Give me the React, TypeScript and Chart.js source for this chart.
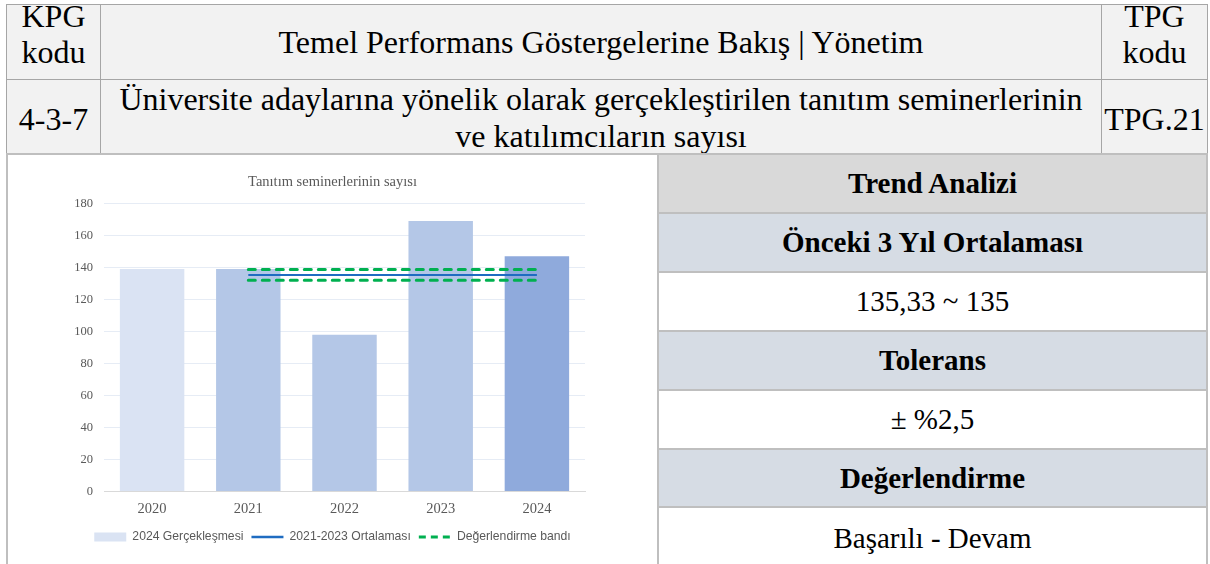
import React, { useEffect, useRef } from "react";
import { Chart, registerables } from "chart.js";

Chart.register(...registerables);

// ---- data ----
const years: string[] = ["2020", "2021", "2022", "2023", "2024"];
const seminarCounts: number[] = [139, 139, 98, 169, 147];
const barColors: string[] = ["#dae3f3", "#b4c7e7", "#b4c7e7", "#b4c7e7", "#8faadc"];
const averageLine: (number | null)[] = [null, 135.33, 135.33, 135.33, 135.33];
const bandUpper: (number | null)[] = [null, 138.71, 138.71, 138.71, 138.71];
const bandLower: (number | null)[] = [null, 131.95, 131.95, 131.95, 131.95];
const legendLabels: string[] = ["2024 Gerçekleşmesi", "2021-2023 Ortalaması", "Değerlendirme bandı"];
const chartTitle = "Tanıtım seminerlerinin sayısı";
const yMin = 0;
const yMax = 180;
const yStep = 20;

const panelRows: { text: string; bold: boolean; bg: string }[] = [
  { text: "Trend Analizi", bold: true, bg: "#d9d9d9" },
  { text: "Önceki 3 Yıl Ortalaması", bold: true, bg: "#d6dce4" },
  { text: "135,33 ~ 135", bold: false, bg: "#ffffff" },
  { text: "Tolerans", bold: true, bg: "#d6dce4" },
  { text: "± %2,5", bold: false, bg: "#ffffff" },
  { text: "Değerlendirme", bold: true, bg: "#d6dce4" },
  { text: "Başarılı - Devam", bold: false, bg: "#ffffff" },
];
const panelRowTops = [155, 214, 273, 332, 391, 450, 508];
const panelRowHeights = [57, 57, 57, 57, 57, 56, 60];

const BLUE = "#1f6cc1";
const GREEN = "#00b050";
const SERIF = '"Liberation Serif", "Times New Roman", serif';
const SANS = '"Liberation Sans", Arial, sans-serif';

function ChartPanel() {
  const ref = useRef<HTMLCanvasElement | null>(null);
  useEffect(() => {
    if (!ref.current) return;
    const chart = new Chart(ref.current, {
      type: "bar",
      data: {
        labels: years,
        datasets: [
          {
            type: "line",
            label: legendLabels[1],
            data: averageLine,
            borderColor: BLUE,
            backgroundColor: BLUE,
            borderWidth: 2,
            pointRadius: 0,
            order: 1,
          } as any,
          {
            type: "line",
            label: legendLabels[2],
            data: bandUpper,
            borderColor: GREEN,
            backgroundColor: GREEN,
            borderWidth: 3,
            borderDash: [7, 7],
            borderCapStyle: "round",
            pointRadius: 0,
            order: 1,
          } as any,
          {
            type: "line",
            label: legendLabels[2],
            data: bandLower,
            borderColor: GREEN,
            backgroundColor: GREEN,
            borderWidth: 3,
            borderDash: [7, 7],
            borderCapStyle: "round",
            pointRadius: 0,
            order: 1,
          } as any,
          {
            type: "bar",
            label: legendLabels[0],
            data: seminarCounts,
            backgroundColor: barColors,
            borderWidth: 0,
            barPercentage: 0.67,
            categoryPercentage: 1,
            order: 2,
          } as any,
        ],
      },
      options: {
        animation: false,
        responsive: false,
        layout: { padding: { left: 0, right: 0, top: 0, bottom: 11 } },
        plugins: {
          tooltip: { enabled: false },
          title: {
            display: true,
            text: chartTitle,
            color: "#595959",
            font: { family: SERIF, size: 14.5, weight: "normal" },
            padding: { top: 18, bottom: 13 },
          },
          legend: {
            display: true,
            position: "bottom",
            labels: {
              usePointStyle: true,
              pointStyleWidth: 32,
              boxHeight: 9,
              padding: 8,
              color: "#595959",
              font: { family: SANS, size: 12.2 },
              generateLabels: () => [
                {
                  text: legendLabels[0],
                  fillStyle: barColors[0],
                  strokeStyle: barColors[0],
                  lineWidth: 0,
                  pointStyle: "rect",
                  hidden: false,
                  datasetIndex: 3,
                  fontColor: "#595959",
                },
                {
                  text: legendLabels[1],
                  fillStyle: BLUE,
                  strokeStyle: BLUE,
                  lineWidth: 2.5,
                  pointStyle: "line",
                  hidden: false,
                  datasetIndex: 0,
                  fontColor: "#595959",
                },
                {
                  text: legendLabels[2],
                  fillStyle: GREEN,
                  strokeStyle: GREEN,
                  lineWidth: 3,
                  lineDash: [7, 5],
                  lineCap: "butt",
                  pointStyle: "line",
                  hidden: false,
                  datasetIndex: 1,
                  fontColor: "#595959",
                },
              ],
            },
          },
        },
        scales: {
          x: {
            grid: { display: false, drawTicks: false },
            border: { display: true, color: "#d9d9d9", width: 1 },
            ticks: {
              color: "#595959",
              font: { family: SERIF, size: 14.5 },
              padding: 9,
            },
            afterFit: (s: any) => {
              s.height = 31.25;
            },
          },
          y: {
            min: yMin,
            max: yMax,
            grid: { color: "#e6ecf5", drawTicks: false, lineWidth: 1 },
            border: { display: false },
            ticks: {
              stepSize: yStep,
              color: "#595959",
              font: { family: SERIF, size: 12.5 },
              padding: 11,
            },
            afterFit: (s: any) => {
              s.width = 96;
            },
          },
          yRightSpace: {
            type: "linear",
            position: "right",
            display: true,
            grid: { display: false, drawTicks: false },
            border: { display: false },
            ticks: { display: false },
            afterFit: (s: any) => {
              s.width = 72;
            },
          },
        },
      } as any,
    });
    return () => chart.destroy();
  }, []);
  return (
    <canvas
      ref={ref}
      width={649}
      height={409}
      style={{ position: "absolute", left: 8, top: 155, width: 649, height: 409 }}
    />
  );
}

const cellBase: React.CSSProperties = {
  position: "absolute",
  boxSizing: "border-box",
  display: "flex",
  alignItems: "center",
  justifyContent: "center",
  textAlign: "center",
  fontFamily: SERIF,
  color: "#000",
  overflow: "visible",
  whiteSpace: "nowrap",
};

function HeaderCell(props: {
  x: number;
  y: number;
  w: number;
  h: number;
  children: React.ReactNode;
  shift?: number;
  lh?: number;
}) {
  return (
    <div
      style={{
        ...cellBase,
        left: props.x,
        top: props.y,
        width: props.w,
        height: props.h,
        background: "#f2f2f2",
        border: "1px solid #a6a6a6",
        fontSize: 32,
        lineHeight: (props.lh ?? 37) + "px",
      }}
    >
      <div style={{ position: "relative", top: props.shift ?? 0 }}>{props.children}</div>
    </div>
  );
}

export default function App() {
  return (
    <div style={{ position: "absolute", left: 0, top: 0, width: 1210, height: 564, overflow: "hidden", background: "#fff" }}>
      {/* header table */}
      <HeaderCell x={6} y={4} w={95} h={76} shift={-8} lh={36}>
        KPG
        <br />
        kodu
      </HeaderCell>
      <HeaderCell x={100} y={4} w={1002} h={76}>
        Temel Performans Göstergelerine Bakış | Yönetim
      </HeaderCell>
      <HeaderCell x={1101} y={4} w={107} h={76} shift={-8} lh={36}>
        TPG
        <br />
        kodu
      </HeaderCell>
      <HeaderCell x={6} y={79} w={95} h={75} shift={3}>
        4-3-7
      </HeaderCell>
      <HeaderCell x={100} y={79} w={1002} h={75} shift={1}>
        Üniversite adaylarına yönelik olarak gerçekleştirilen tanıtım seminerlerinin
        <br />
        ve katılımcıların sayısı
      </HeaderCell>
      <HeaderCell x={1101} y={79} w={107} h={75} shift={3}>
        TPG.21
      </HeaderCell>

      {/* lower section borders */}
      <div style={{ position: "absolute", left: 6, top: 153, width: 1202, height: 2, background: "#bfbfbf" }} />
      <div style={{ position: "absolute", left: 6, top: 153, width: 2, height: 420, background: "#bfbfbf" }} />

      {/* chart */}
      <ChartPanel />

      {/* right panel */}
      <div style={{ position: "absolute", left: 657, top: 153, width: 551, height: 420, background: "#bfbfbf" }} />
      {panelRows.map((r, i) => (
        <div
          key={i}
          style={{
            ...cellBase,
            left: 659,
            top: panelRowTops[i],
            width: 547,
            height: panelRowHeights[i],
            background: r.bg,
            fontSize: 29,
            fontWeight: r.bold ? 700 : 400,
          }}
        >
          {r.text}
        </div>
      ))}
    </div>
  );
}
